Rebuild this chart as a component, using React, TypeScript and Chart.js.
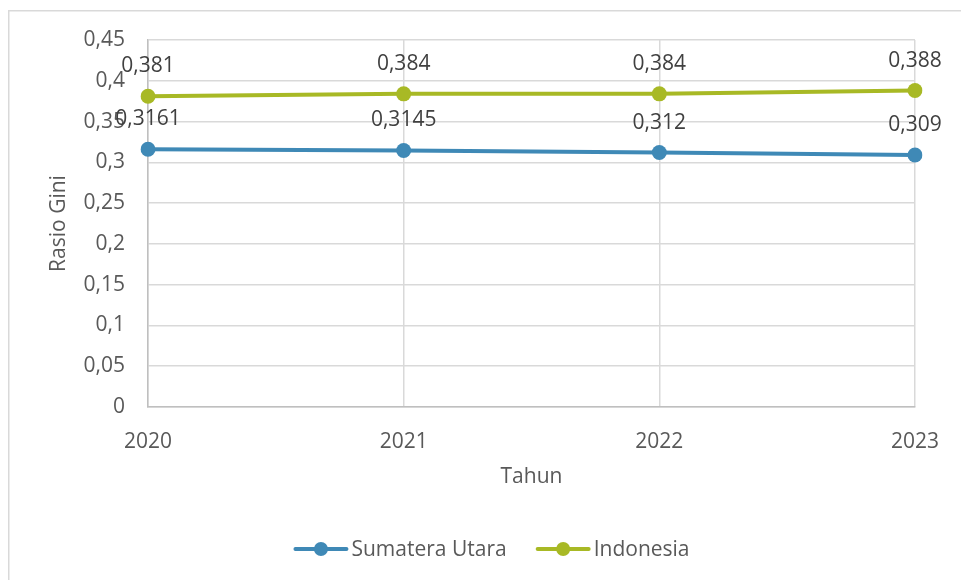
import React, { useEffect, useRef } from "react";
import { Chart, registerables } from "chart.js";

Chart.register(...registerables);

const categories = ["2020", "2021", "2022", "2023"];
const sumateraUtara = [0.3161, 0.3145, 0.312, 0.309];
const indonesia = [0.381, 0.384, 0.384, 0.388];
const seriesNames = ["Sumatera Utara", "Indonesia"];
const seriesColors = ["#3f89b6", "#a8b925"];
const yTitle = "Rasio Gini";
const xTitle = "Tahun";

const FONT = "'Open Sans', 'DejaVu Sans', sans-serif";
const FS = 21;
const fmt = (v: number) => String(v).replace(".", ",");

const borderPlugin = {
  id: "outerBorder",
  beforeDraw(chart: any) {
    const ctx = chart.ctx;
    ctx.save();
    ctx.fillStyle = "#ffffff";
    ctx.fillRect(0, 0, chart.width, chart.height);
    ctx.strokeStyle = "#d9d9d9";
    ctx.lineWidth = 1.5;
    ctx.strokeRect(8.75, 10.75, chart.width + 20, chart.height + 20);
    ctx.restore();
  },
};

const dataLabelPlugin = {
  id: "dataLabels",
  afterDatasetsDraw(chart: any) {
    const ctx = chart.ctx;
    ctx.save();
    ctx.font = `${FS}px ${FONT}`;
    ctx.fillStyle = "#404040";
    ctx.textAlign = "center";
    ctx.textBaseline = "middle";
    chart.data.datasets.forEach((ds: any, i: number) => {
      const meta = chart.getDatasetMeta(i);
      meta.data.forEach((pt: any, j: number) => {
        ctx.fillText(fmt(ds.data[j]), pt.x, pt.y - 30);
      });
    });
    ctx.restore();
  },
};

const legendPlugin = {
  id: "customLegend",
  afterDraw(chart: any) {
    const ctx = chart.ctx;
    ctx.save();
    ctx.font = `${FS}px ${FONT}`;
    ctx.textBaseline = "middle";
    ctx.textAlign = "left";
    const lineW = 53;
    const gap = 4;
    const itemGap = 30;
    const items = chart.data.datasets.map((ds: any) => ({
      label: ds.label,
      color: ds.borderColor,
      w: lineW + gap + ctx.measureText(ds.label).width,
    }));
    const total = items.reduce((a: number, it: any) => a + it.w, 0) + itemGap * (items.length - 1);
    let x = 492 - total / 2;
    const y = 549;
    items.forEach((it: any) => {
      ctx.strokeStyle = it.color;
      ctx.lineWidth = 4;
      ctx.lineCap = "round";
      ctx.beginPath();
      ctx.moveTo(x + 1, y);
      ctx.lineTo(x + lineW - 1, y);
      ctx.stroke();
      ctx.fillStyle = it.color;
      ctx.beginPath();
      ctx.arc(x + lineW / 2, y, 7, 0, Math.PI * 2);
      ctx.fill();
      ctx.fillStyle = "#595959";
      ctx.fillText(it.label, x + lineW + gap, y + 1);
      x += it.w + itemGap;
    });
    ctx.restore();
  },
};

export default function App() {
  const ref = useRef<HTMLCanvasElement | null>(null);
  useEffect(() => {
    if (!ref.current) return;
    const chart = new Chart(ref.current, {
      type: "line",
      data: {
        labels: categories,
        datasets: [
          {
            label: seriesNames[0],
            data: sumateraUtara,
            borderColor: seriesColors[0],
            backgroundColor: seriesColors[0],
            borderWidth: 4,
            pointRadius: 7.5,
            pointHoverRadius: 7.5,
            pointBorderWidth: 0,
            tension: 0,
          },
          {
            label: seriesNames[1],
            data: indonesia,
            borderColor: seriesColors[1],
            backgroundColor: seriesColors[1],
            borderWidth: 4,
            pointRadius: 7.5,
            pointHoverRadius: 7.5,
            pointBorderWidth: 0,
            tension: 0,
          },
        ],
      },
      options: {
        animation: false,
        responsive: false,
        maintainAspectRatio: false,
        devicePixelRatio: 1,
        layout: { padding: { left: 0, top: 40, right: 45, bottom: 73 } },
        plugins: {
          legend: { display: false },
          tooltip: { enabled: false },
        },
        scales: {
          x: {
            type: "category",
            offset: false,
            grid: { color: "#d9d9d9", lineWidth: 1.5, drawTicks: false },
            border: { color: "#bfbfbf", width: 1.5 },
            ticks: {
              color: "#595959",
              font: { family: FONT, size: FS },
              padding: 22,
              maxRotation: 0,
              autoSkip: false,
            },
            title: {
              display: true,
              text: xTitle,
              color: "#595959",
              font: { family: FONT, size: FS },
              padding: { top: 0, bottom: 17 },
            },
            afterFit: (s: any) => {
              s.height = 100;
            },
          },
          y: {
            min: 0,
            max: 0.45,
            grid: { color: "#d9d9d9", lineWidth: 1.5, drawTicks: false },
            border: { color: "#bfbfbf", width: 1.5 },
            ticks: {
              stepSize: 0.05,
              color: "#595959",
              font: { family: FONT, size: FS },
              padding: 23,
              callback: (v: any) => String(Number(Number(v).toFixed(2))).replace(".", ","),
            },
            title: {
              display: true,
              text: yTitle,
              color: "#595959",
              font: { family: FONT, size: FS },
              padding: { top: 46, bottom: 0 },
            },
            afterFit: (s: any) => {
              s.width = 148;
            },
          },
        },
      },
      plugins: [borderPlugin, dataLabelPlugin, legendPlugin],
    });
    return () => chart.destroy();
  }, []);
  return (
    <div style={{ position: "fixed", left: 0, top: 0, width: 961, height: 580, background: "#fff" }}>
      <canvas ref={ref} width={961} height={580} style={{ width: 961, height: 580, display: "block" }} />
    </div>
  );
}
